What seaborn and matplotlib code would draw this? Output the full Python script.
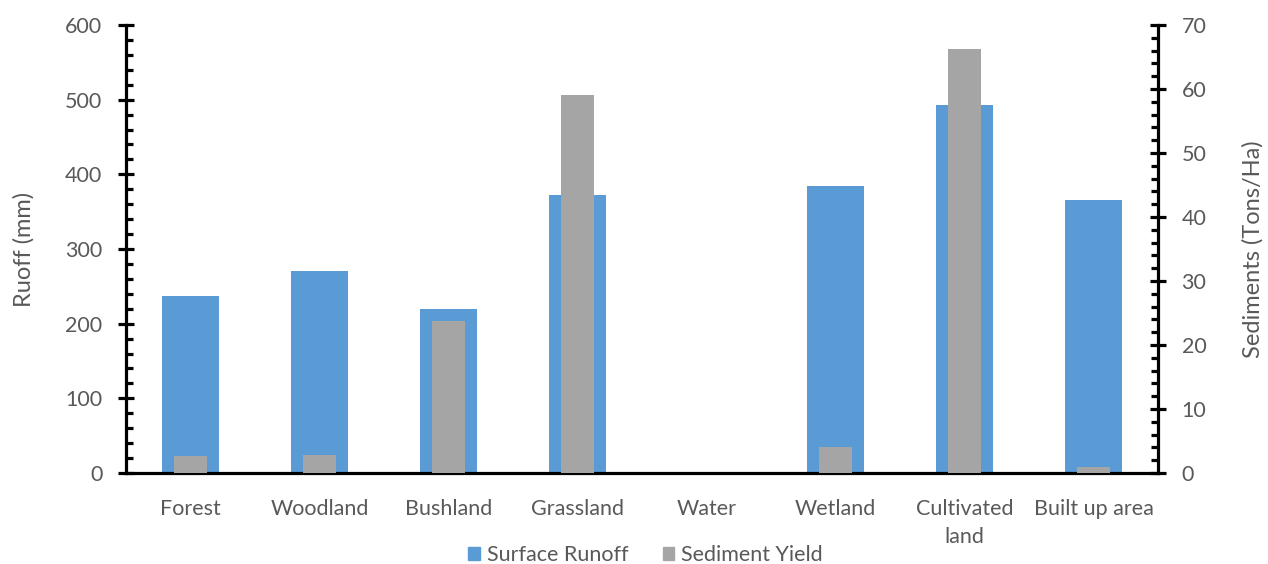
import numpy as np
import pandas as pd
import matplotlib
matplotlib.use("Agg")
import matplotlib.pyplot as plt
from matplotlib.ticker import MultipleLocator, FixedLocator
from matplotlib.patches import Patch
import seaborn as sns

categories = ['Forest', 'Woodland', 'Bushland', 'Grassland', 'Water',
              'Wetland', 'Cultivated\nland', 'Built up area']
runoff = [237, 270, 219, 372, 0, 385, 493, 366]
sediment = [2.6, 2.8, 23.7, 59.0, 0, 4.0, 66.3, 0.9]

blue = '#5B9BD5'
grey = '#A5A5A5'
txt = '#595959'

sns.set_style('white')
plt.rcParams['font.family'] = ['Lato', 'DejaVu Sans']

df = pd.DataFrame({'cat': categories, 'runoff': runoff, 'sed': sediment})

fig = plt.figure(figsize=(12.68, 5.64), dpi=100)
ax = fig.add_axes([0.0994, 0.1613, 0.8138, 0.7944])
sns.barplot(data=df, x='cat', y='runoff', order=categories, color=blue,
            saturation=1, width=0.44, linewidth=0, ax=ax)
ax2 = ax.twinx()
sns.barplot(data=df, x='cat', y='sed', order=categories, color=grey,
            saturation=1, width=0.25, linewidth=0, ax=ax2)

ax.set_xlim(-0.5, len(categories) - 0.5)
ax.set_ylim(0, 600)
ax2.set_ylim(0, 70)

ax.yaxis.set_major_locator(MultipleLocator(100))
ax.yaxis.set_minor_locator(MultipleLocator(20))
ax2.yaxis.set_major_locator(MultipleLocator(10))
ax2.yaxis.set_minor_locator(MultipleLocator(2))

for a in (ax, ax2):
    for s in a.spines.values():
        s.set_visible(False)
    a.set_xlabel('')
ax.spines['left'].set_visible(True)
ax.spines['bottom'].set_visible(True)
ax2.spines['right'].set_visible(True)
for s in (ax.spines['left'], ax.spines['bottom'], ax2.spines['right']):
    s.set_color('black')
    s.set_linewidth(2.3)

ax.tick_params(axis='y', which='major', direction='inout', length=12, width=2.3,
               color='black', labelsize=15.5, labelcolor=txt, pad=11)
ax.tick_params(axis='y', which='minor', direction='in', length=5, width=2.3, color='black')
ax2.tick_params(axis='y', which='major', direction='inout', length=12, width=2.3,
                color='black', labelsize=15.5, labelcolor=txt, pad=11)
ax2.tick_params(axis='y', which='minor', direction='in', length=5, width=2.3, color='black')

ax.set_xticks(range(len(categories)))
ax.set_xticklabels(categories, linespacing=1.45)
ax.xaxis.set_minor_locator(FixedLocator(np.arange(-0.5, len(categories), 1.0)))
ax.tick_params(axis='x', which='major', direction='in', length=5, width=2.3,
               color='black', labelsize=15.5, labelcolor=txt, pad=19)
ax.tick_params(axis='x', which='minor', direction='out', length=8, width=2.3, color='black')
ax2.tick_params(axis='x', which='both', length=0, labelbottom=False)

ax.set_ylabel('Ruoff (mm)', fontsize=17, color=txt, labelpad=22)
ax2.set_ylabel('Sediments (Tons/Ha)', fontsize=17, color=txt, labelpad=26)

handles = [Patch(color=blue, label='Surface Runoff'), Patch(color=grey, label='Sediment Yield')]
fig.legend(handles=handles, loc='center', bbox_to_anchor=(0.509, 0.016), ncol=2,
           frameon=False, fontsize=15.5, labelcolor=txt, handlelength=0.55, handleheight=0.55,
           handletextpad=0.3, columnspacing=1.6)

fig.savefig('out.png', dpi=100)
